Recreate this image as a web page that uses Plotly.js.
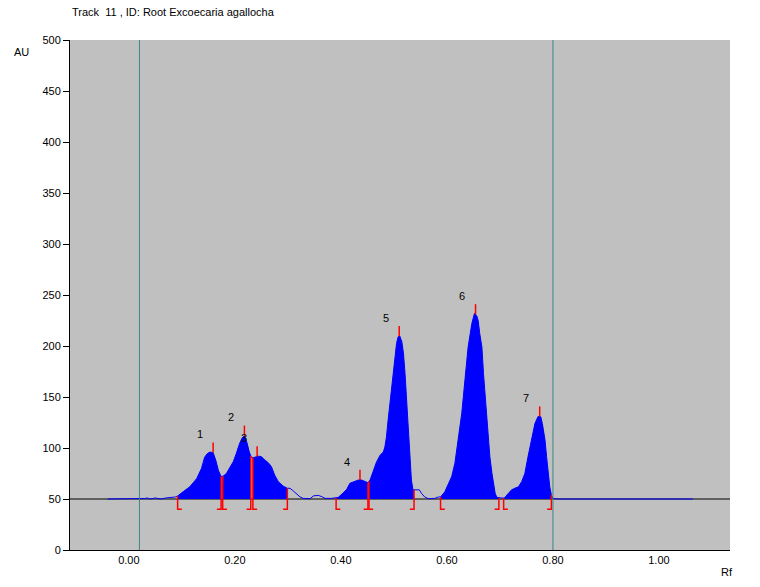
<!DOCTYPE html>
<html>
<head>
<meta charset="utf-8">
<script src="https://cdn.plot.ly/plotly-3.0.1.min.js"></script>
<style>html,body{margin:0;padding:0;background:#fff;}#chart{width:760px;height:587px;}</style>
</head>
<body>
<div id="chart"></div>
<script>
// ---- data ----
const rf = [-0.04,0.02,0.03,0.035,0.04,0.05,0.06,0.07,0.08,0.088,0.092,0.102,0.115,0.128,0.137,0.143,0.148,0.153,0.159,0.164,0.169,0.174,
  0.178,0.184,0.190,0.197,0.203,0.209,0.214,0.218,0.223,0.227,0.231,0.235,0.244,0.250,0.257,0.263,0.269,0.275,0.282,0.291,0.299,
  0.304,0.310,0.316,0.323,0.329,0.342,0.348,0.357,0.364,0.370,0.382,0.391,0.395,0.404,0.411,0.417,0.426,0.433,0.439,0.445,0.451,
  0.455,0.461,0.467,0.474,0.480,0.483,0.486,0.489,0.492,0.496,0.499,0.502,0.505,0.508,0.511,0.515,0.518,0.521,0.524,0.527,0.530,0.533,0.536,
  0.540,0.548,0.552,0.558,0.565,0.577,0.584,0.588,0.596,0.602,0.609,0.615,0.621,0.628,0.634,0.640,0.647,0.652,0.656,0.659,0.662,0.666,
  0.669,0.672,0.675,0.678,0.681,0.685,0.688,0.691,0.694,0.698,0.703,0.707,0.709,0.716,0.722,0.728,0.735,0.741,0.747,0.753,0.760,0.766,
  0.772,0.777,0.780,0.785,0.788,0.791,0.794,0.797,0.800,0.810,1.064];
const au = [50,50,50.5,51,50,51,50,51,51.5,52,53,57,62,70,80,91,94.5,96,95.5,88,78,72,
  72.5,75,80,86.6,95,104.6,110,112,105,96,91,90.5,92,91.5,88,85.6,81.7,73.5,67,62.7,60.5,
  60.5,58,55,52,50.6,50.3,53,53.6,52.3,50.6,50.6,51,51.6,55.6,59.5,65.4,67,68.6,68.6,67,66,
  68.6,77,86,93,96,101,111,127,140.5,157,173,189.5,202.6,209,210,204,193,173,147,114,88,68.6,59,
  59,59,55.6,52,50.3,50.6,52,52,57,64,72,85,108,134,166.7,199,222,232,230,225,212,199,
  173,150,127,108,91.5,75,64,55.6,51.6,51,51,51,51.3,55.6,59,60.5,62,67,75,91.5,108,124,
  131,130.7,124,108,91.5,75,62,54,50.5,50,50];
const regionStart = [0.092,0.177,0.234,0.391,0.453,0.588,0.707];
const regionEnd   = [0.174,0.230,0.299,0.451,0.538,0.698,0.797];
const peakRf      = [0.159,0.218,0.242,0.436,0.510,0.654,0.775];
const peakLabels  = ['1','2','3','4','5','6','7'];
const frontLines  = [0.02,0.80];
const baselineAU  = 50;
const xTicks = [0,0.2,0.4,0.6,0.8,1.0];
const yTicks = [0,50,100,150,200,250,300,350,400,450,500];

// ---- helpers ----
function interp(x){
  for(let i=0;i<rf.length-1;i++){
    if(x>=rf[i] && x<=rf[i+1]){
      const t=(x-rf[i])/(rf[i+1]-rf[i]);
      return au[i]+t*(au[i+1]-au[i]);
    }
  }
  return baselineAU;
}
const bracketBottom = 40, footLen = 0.008, markLen = 10;
const labelDx = -0.025, labelDy = 18;

const traces = [];
// filled integration regions
regionStart.forEach((s,k)=>{
  const e = regionEnd[k];
  const xs=[s], ys=[baselineAU];
  xs.push(s); ys.push(interp(s));
  rf.forEach((x,i)=>{ if(x>s && x<e){ xs.push(x); ys.push(au[i]); } });
  xs.push(e); ys.push(interp(e));
  xs.push(e); ys.push(baselineAU);
  traces.push({x:xs,y:ys,type:'scatter',mode:'lines',fill:'toself',fillcolor:'#0000FF',
    line:{width:0,color:'#0000FF'},hoverinfo:'skip',showlegend:false});
});
// raw curve
traces.push({x:rf,y:au,type:'scatter',mode:'lines',line:{color:'#0000FF',width:1},hoverinfo:'skip',showlegend:false});
// integration brackets
const bx=[], by=[];
regionStart.forEach(s=>{ bx.push(s+footLen,s,s,null); by.push(bracketBottom,bracketBottom,interp(s),null); });
regionEnd.forEach(e=>{ bx.push(e-footLen,e,e,null); by.push(bracketBottom,bracketBottom,interp(e),null); });
traces.push({x:bx,y:by,type:'scatter',mode:'lines',line:{color:'#FF0000',width:1.5},hoverinfo:'skip',showlegend:false});
// peak markers
const mx=[], my=[];
peakRf.forEach(p=>{ const h=interp(p); mx.push(p,p,null); my.push(h,h+markLen,null); });
traces.push({x:mx,y:my,type:'scatter',mode:'lines',line:{color:'#FF0000',width:1.5},hoverinfo:'skip',showlegend:false});

const font = {family:'Arial, "Liberation Sans", sans-serif', size:11, color:'#000'};
const annotations = peakLabels.map((t,k)=>({x:peakRf[k]+labelDx, y:interp(peakRf[k])+labelDy, xref:'x', yref:'y',
  text:t, showarrow:false, font:font}));
annotations.push({x:0,y:1.055,xref:'paper',yref:'paper',xanchor:'left',yanchor:'middle',showarrow:false,
  text:'Track\u00a0\u00a011 , ID: Root Excoecaria agallocha',font:{family:font.family,size:11,color:'#000'}});
annotations.push({x:-0.073,y:0.976,xref:'paper',yref:'paper',xanchor:'center',yanchor:'middle',showarrow:false,text:'AU',font:font});
annotations.push({x:0.995,y:-0.043,xref:'paper',yref:'paper',xanchor:'center',yanchor:'middle',showarrow:false,text:'Rf',font:font});

const shapes = [{type:'line',xref:'paper',x0:0,x1:1,yref:'y',y0:baselineAU,y1:baselineAU,line:{color:'#000',width:1},layer:'below'}];
frontLines.forEach(f=>shapes.push({type:'line',xref:'x',x0:f,x1:f,yref:'paper',y0:0,y1:1,line:{color:'#3F8585',width:1},layer:'above'}));

const layout = {
  width:760,height:587,
  margin:{l:70,r:30,t:40,b:37},
  paper_bgcolor:'#FFFFFF',plot_bgcolor:'#C0C0C0',
  font:font,
  showlegend:false,
  xaxis:{range:[-0.111,1.134],tickvals:xTicks,tickformat:'.2f',ticks:'',showgrid:false,zeroline:false,
    showline:true,linecolor:'#000',linewidth:1,tickfont:font},
  yaxis:{range:[0,500],tickvals:yTicks,ticks:'outside',ticklen:6,tickcolor:'#000',showgrid:false,zeroline:false,
    showline:true,linecolor:'#000',linewidth:1,tickfont:font},
  shapes:shapes,
  annotations:annotations
};
Plotly.newPlot('chart',traces,layout,{staticPlot:true,displayModeBar:false});
</script>
</body>
</html>
